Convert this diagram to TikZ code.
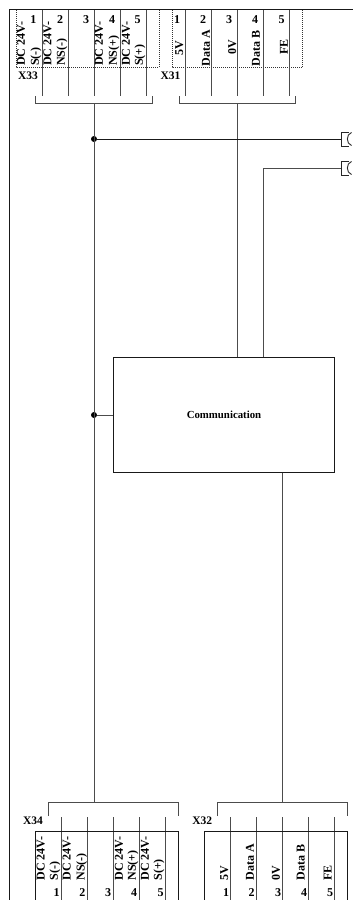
\documentclass[tikz,border=0pt]{standalone}
\usepackage{fontspec}
\setmainfont{Liberation Serif}
\tikzset{
  x=1pt,y=-1pt,
  wire/.style={draw=black!70,line width=1pt},
  frame/.style={draw=black!90,line width=1pt},
  dots/.style={draw=black!80,line width=0.8pt,dash pattern=on 1pt off 1pt},
  lab/.style={font=\bfseries\fontsize{12}{13}\selectfont,inner sep=0pt,text=black},
  rot/.style={lab,rotate=90,anchor=west},
  num/.style={lab},
  tag/.style={lab,font=\bfseries\fontsize{11.5}{12}\selectfont},
  blockbox/.style={draw=black!90,line width=1pt,fill=white,minimum width=221.4pt,minimum height=115.4pt,inner sep=0pt},
  jdot/.style={circle,fill=black,inner sep=0pt,minimum size=6pt},
  plug/.style={draw=black!85,line width=0.9pt}
}
\begin{document}
\begin{tikzpicture}
\useasboundingbox (0,0) rectangle (353,900);
\draw[frame] (353,9.5) -- (9.5,9.5) -- (9.5,900);
% X33 head
\draw[dots] (16,10) -- (16,67) -- (159,67) -- (159,10);
\foreach \x in {42,68,94,120,146} \draw[wire] (\x,10) -- (\x,96);
\draw[wire] (35.5,96) -- (35.5,103) -- (152.5,103) -- (152.5,96);
\node[num] (n331) at (33.5,20) {1};
\node[num] (n332) at (60,20) {2};
\node[num] (n333) at (86,20) {3};
\node[num] (n334) at (112,20) {4};
\node[num] (n335) at (137.7,20) {5};
\node[rot] (l331) at (21,66) {DC 24V-};
\node[rot] (l332) at (36,66) {S(-)};
\node[rot] (l333) at (47.5,66) {DC 24V-};
\node[rot] (l334) at (62,66) {NS(-)};
\node[rot] (l335) at (99,66) {DC 24V-};
\node[rot] (l336) at (114,66) {NS(+)};
\node[rot] (l337) at (126,66) {DC 24V-};
\node[rot] (l338) at (140,66) {S(+)};
\node[tag] (x33) at (28,76) {X33};
% X31 head
\draw[dots] (172,10) -- (172,67) -- (302.5,67) -- (302.5,10);
\foreach \x in {185,211,237,263,289} \draw[wire] (\x,10) -- (\x,96);
\draw[wire] (179,96) -- (179,103) -- (295.5,103) -- (295.5,96);
\node[num] (n311) at (177,20) {1};
\node[num] (n312) at (203,20) {2};
\node[num] (n313) at (229,20) {3};
\node[num] (n314) at (255,20) {4};
\node[num] (n315) at (281.5,20) {5};
\node[rot] (l311) at (179.3,55.7) {5V};
\node[rot] (l312) at (206,66.7) {Data A};
\node[rot] (l313) at (232.3,55) {0V};
\node[rot] (l314) at (256,66.7) {Data B};
\node[rot] (l315) at (284,55) {FE};
\node[tag] (x31) at (170.5,76) {X31};
% block and plugs
\node[blockbox] (comm) at (224,415) {\fontsize{10.8}{12}\selectfont\bfseries Communication};
\coordinate (p1) at (341,139);
\coordinate (p2) at (341,168);
\draw[plug] (349,132) -- (341,132) -- (341,146) -- (349,146);
\draw[plug] (349,161) -- (341,161) -- (341,175) -- (349,175);
\draw[plug] (351.5,132.5) .. controls (346,134) and (346,144) .. (351.5,145.5);
\draw[plug] (351.5,161.5) .. controls (346,163) and (346,173) .. (351.5,174.5);
\coordinate (t33) at (94,103);
\coordinate (t31) at (237,103);
\coordinate (b34) at (94,802);
\coordinate (b32) at (282.5,802);
\node[jdot] (j1) at (94,139) {};
\node[jdot] (j2) at (94,415) {};
\draw[wire] (t33) -- (b34);
\draw[wire] (t31) -- (237,357.3);
\draw[frame] (j1) -- (p1);
\draw[wire] (263,357.3) -- (263,168) -- (p2);
\draw[wire] (j2) -- (comm.west);
\draw[wire] (282.5,472.7) -- (b32);
% X34 foot
\draw[wire] (48.5,816) -- (48.5,802) -- (178.3,802) -- (178.3,816);
\foreach \x in {61.5,87.5,113.5,139.5,165.5} \draw[wire] (\x,817) -- (\x,900);
\draw[frame] (35.5,900) -- (35.5,831.5) -- (178.3,831.5) -- (178.3,900);
\node[tag] (x34) at (33,820.7) {X34};
\node[rot] (l341) at (40.7,880.7) {DC 24V-};
\node[rot] (l342) at (55,880.7) {S(-)};
\node[rot] (l343) at (66.7,880.7) {DC 24V-};
\node[rot] (l344) at (81.7,880.7) {NS(-)};
\node[rot] (l345) at (119,880.7) {DC 24V-};
\node[rot] (l346) at (133,880.7) {NS(+)};
\node[rot] (l347) at (145,880.7) {DC 24V-};
\node[rot] (l348) at (159,880.7) {S(+)};
\node[num] (n341) at (56.7,892.7) {1};
\node[num] (n342) at (82.3,892.7) {2};
\node[num] (n343) at (108,892.7) {3};
\node[num] (n344) at (134,892.7) {4};
\node[num] (n345) at (160.7,892.7) {5};
% X32 foot
\draw[wire] (217.5,816) -- (217.5,802) -- (347,802) -- (347,816);
\foreach \x in {230.7,256.5,282.5,308.5,334.5} \draw[wire] (\x,817) -- (\x,900);
\draw[frame] (204.7,900) -- (204.7,831.5) -- (347,831.5) -- (347,900);
\node[tag] (x32) at (202.3,820.7) {X32};
\node[rot] (l321) at (224.3,880.7) {5V};
\node[rot] (l322) at (250,880.7) {Data A};
\node[rot] (l323) at (276,880.7) {0V};
\node[rot] (l324) at (300.7,880.7) {Data B};
\node[rot] (l325) at (327.7,880.7) {FE};
\node[num] (n321) at (226,892.7) {1};
\node[num] (n322) at (251.7,892.7) {2};
\node[num] (n323) at (278,892.7) {3};
\node[num] (n324) at (304,892.7) {4};
\node[num] (n325) at (330,892.7) {5};
\end{tikzpicture}
\end{document}
